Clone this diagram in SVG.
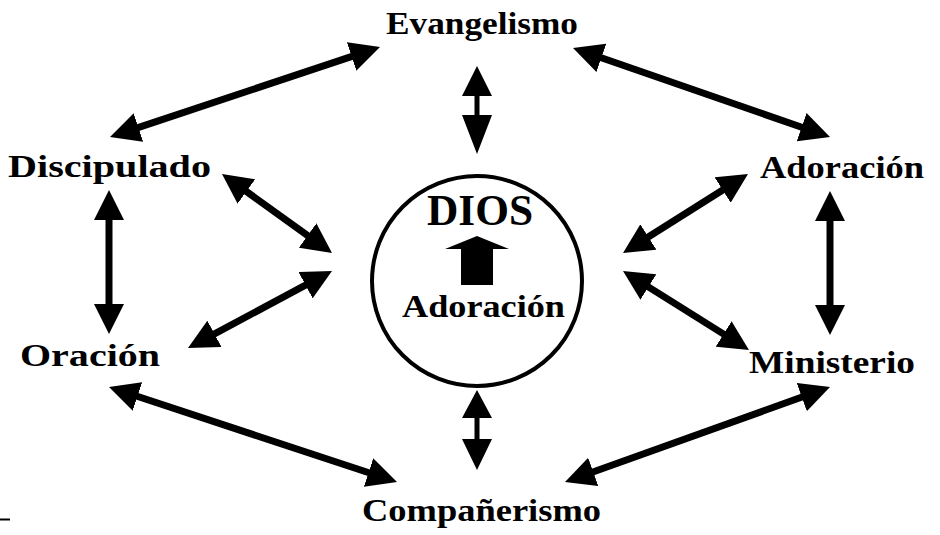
<svg xmlns="http://www.w3.org/2000/svg" width="940" height="535" viewBox="0 0 940 535">
<style>
.lbl{font-family:"Liberation Serif","Times New Roman",serif;font-weight:bold;font-size:32px;fill:#000;text-anchor:middle}
.big{font-size:44px}
.con{stroke:#000;stroke-width:7;fill:none;marker-start:url(#ah);marker-end:url(#ah)}
.solid{fill:#000;stroke:none}
</style>
<defs>
<marker id="ah" markerUnits="userSpaceOnUse" markerWidth="30" markerHeight="30" refX="10" refY="15" orient="auto-start-reverse" viewBox="0 0 30 30">
<path d="M0,0 L30,15 L0,30 z" fill="#000"/>
</marker>
</defs>
<rect width="940" height="535" fill="#fff"/>
<g id="connectors">
<line class="con" x1="128.97" y1="130.68" x2="361.03" y2="53.32"/>
<line class="con" x1="591.9" y1="54.54" x2="811.1" y2="130.46"/>
<line class="con" x1="109" y1="210" x2="109" y2="314"/>
<line class="con" x1="830" y1="211" x2="830" y2="315"/>
<line class="con" x1="238.25" y1="185.67" x2="315.75" y2="241.33"/>
<line class="con" x1="205.64" y1="338.57" x2="314.36" y2="280.43"/>
<line class="con" x1="639.9" y1="242.32" x2="731.1" y2="184.68"/>
<line class="con" x1="639.95" y1="281.63" x2="732.05" y2="339.37"/>
<line class="con" x1="127.99" y1="393.26" x2="378.01" y2="475.74"/>
<line class="con" x1="583.83" y1="475.25" x2="811.17" y2="393.75"/>
<polygon class="solid" points="477,66 492,96 479.5,96 479.5,115 492,115 477,154 462,115 474.5,115 474.5,96 462,96"/>
<polygon class="solid" points="477,390 492,418 479.5,418 479.5,439 492,439 477,470 462,439 474.5,439 474.5,418 462,418"/>
</g>
<g id="dios">
<circle cx="477" cy="281" r="105" fill="none" stroke="#000" stroke-width="4"/>
<text class="lbl big" x="480" y="225" textLength="106" lengthAdjust="spacingAndGlyphs">DIOS</text>
<polygon class="solid" points="477,236 509,249 493,249 493,285 461,285 461,249 445,249"/>
<text class="lbl" x="483.5" y="317" textLength="163" lengthAdjust="spacingAndGlyphs">Adoración</text>
</g>
<g id="evangelismo"><text class="lbl" x="482" y="34" textLength="192" lengthAdjust="spacingAndGlyphs">Evangelismo</text></g>
<g id="discipulado"><text class="lbl" x="109.5" y="177" textLength="203" lengthAdjust="spacingAndGlyphs">Discipulado</text></g>
<g id="adoracion"><text class="lbl" x="842" y="178" textLength="164" lengthAdjust="spacingAndGlyphs">Adoración</text></g>
<g id="oracion"><text class="lbl" x="90" y="366" textLength="140" lengthAdjust="spacingAndGlyphs">Oración</text></g>
<g id="ministerio"><text class="lbl" x="832" y="373" textLength="166" lengthAdjust="spacingAndGlyphs">Ministerio</text></g>
<g id="companerismo"><text class="lbl" x="481.5" y="521" textLength="239" lengthAdjust="spacingAndGlyphs">Compañerismo</text></g>
<line x1="0" y1="519.5" x2="10" y2="519.5" stroke="#000" stroke-width="2"/>
</svg>
